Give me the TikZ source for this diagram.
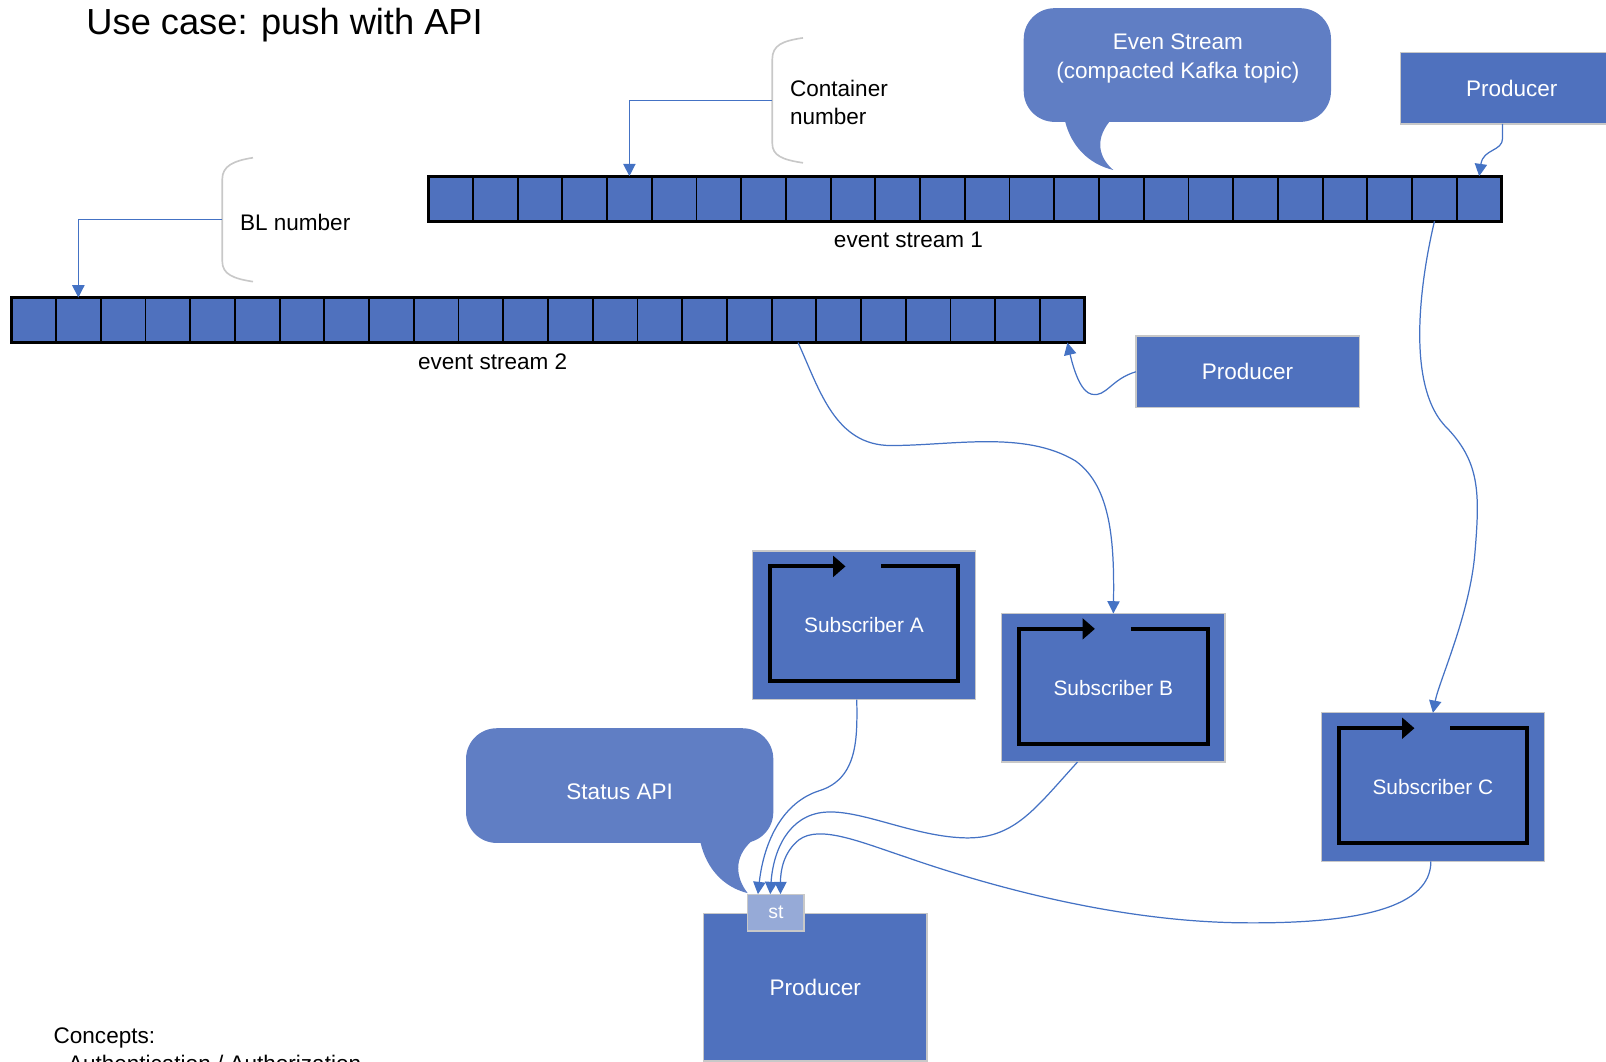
\documentclass[tikz,border=0pt]{standalone}
\usepackage{fontspec}
\setmainfont{Liberation Sans}
\usetikzlibrary{arrows.meta}

\definecolor{boxblue}{RGB}{79,113,190}
\definecolor{bubbleblue}{RGB}{96,126,196}
\definecolor{stblue}{RGB}{150,170,215}
\definecolor{linkblue}{RGB}{68,114,196}
\definecolor{bracegray}{RGB}{200,200,200}

% black loop inside a subscriber box
\newcommand{\loopframe}[1]{%
  \draw[loopline] ([xshift=63pt,yshift=-7.5pt]#1.north west) -- ([xshift=-8.5pt,yshift=-7.5pt]#1.north east)
    -- ([xshift=-8.5pt,yshift=9pt]#1.south east) -- ([xshift=8.5pt,yshift=9pt]#1.south west)
    -- ([xshift=8.5pt,yshift=-7.5pt]#1.north west) -- ([xshift=45.5pt,yshift=-7.5pt]#1.north west);}

\begin{document}
\begin{tikzpicture}[x=0.5pt,y=-0.5pt,
  cell/.style={draw=black,line width=0.9pt,fill=boxblue,minimum width=21.83pt,minimum height=22pt,inner sep=0pt,outer sep=0pt},
  box/.style={draw=bracegray,line width=0.6pt,fill=boxblue,text=white,inner sep=0pt,outer sep=0pt,font=\fontsize{11}{13}\selectfont},
  bubble/.style={fill=bubbleblue,rounded corners=15pt,text=white,inner sep=0pt,align=center,font=\fontsize{11}{14.5}\selectfont},
  lbl/.style={inner sep=0pt,font=\fontsize{11}{14}\selectfont},
  brace/.style={draw=bracegray,line width=0.8pt},
  link/.style={draw=linkblue,line width=0.6pt,-{Triangle[length=6pt,width=6pt]}},
  loopline/.style={draw=black,line width=2pt,-{Triangle[length=6pt,width=10pt]}}]
\useasboundingbox (0,0) rectangle (1568,1036);

\node[anchor=west,inner sep=0pt,font=\fontsize{17.7}{20}\selectfont] (title) at (84,25) {Use case: push with API};

% event streams
\foreach \i in {1,...,24} {
  \node[cell] (sa\i) at ({418+43.667*(\i-0.5)},194) {};
  \node[cell] (sb\i) at ({11+43.667*(\i-0.5)},312.5) {};
}
\draw[line width=1.4pt] (sa1.north west) rectangle (sa24.south east);
\draw[line width=1.4pt] (sb1.north west) rectangle (sb24.south east);
\node[lbl] (esOne) at (887,234) {event stream 1};
\node[lbl] (esTwo) at (481,353) {event stream 2};

% keys
\draw[brace] (784,37) .. controls (764,40) and (754,44) .. (754,58) -- (754,140) .. controls (754,152) and (764,156) .. (784,159);
\draw[brace] (247,154) .. controls (228,157) and (217,162) .. (217,175) -- (217,255) .. controls (217,268) and (228,272) .. (247,275);
\coordinate (cnMid) at (754,98);
\coordinate (blMid) at (217,214);
\node[lbl,anchor=west,align=left] (cnText) at (771,100) {Container\\number};
\node[lbl,anchor=west] (blText) at (234,217) {BL number};

% callouts
\fill[bubbleblue] (1040,110) -- (1040,119) .. controls (1046,142) and (1062,160) .. (1087,166) .. controls (1074,155) and (1068,138) .. (1083,119) -- (1083,110) -- cycle;
\node[bubble,minimum width=150pt,minimum height=55.5pt] (evBubble) at (1149.5,63.5) {};
\node[lbl,text=white,align=center] (evText) at (1150,57) {Even Stream\\(compacted Kafka topic)};
\fill[bubbleblue] (684,815) -- (684,823) .. controls (690,848) and (706,866) .. (730,872) .. controls (719,858) and (715,838) .. (734,821) -- (734,815) -- cycle;
\node[bubble,minimum width=150pt,minimum height=56pt] (statusApi) at (605,767) {};
\node[lbl,text=white] (statusText) at (605,773) {Status API};

% producers
\node[box,minimum width=109pt,minimum height=35pt] (prodTop) at (1476,86) {Producer};
\node[box,minimum width=109pt,minimum height=35pt] (prodMid) at (1218,363) {Producer};
\node[box,minimum width=109pt,minimum height=72pt] (prodBot) at (796,964) {Producer};
\node[box,fill=stblue,minimum width=27.5pt,minimum height=18pt,font=\fontsize{9.5}{11}\selectfont] (st) at (757.5,891) {st};

% subscribers
\node[box,minimum width=109pt,minimum height=72.5pt,font=\fontsize{10.2}{12}\selectfont] (subA) at (843.5,610.5) {Subscriber A};
\node[box,minimum width=109pt,minimum height=72.5pt,font=\fontsize{10.2}{12}\selectfont] (subB) at (1087,671.5) {Subscriber B};
\node[box,minimum width=109pt,minimum height=72.5pt,font=\fontsize{10.2}{12}\selectfont] (subC) at (1399,768.5) {Subscriber C};
\loopframe{subA}
\loopframe{subB}
\loopframe{subC}

% connectors
\draw[link] (cnMid) -| (sa5.north);
\draw[link] (blMid) -| (sb2.north);
\draw[link] ([xshift=-4.5pt]prodTop.south) -- (1467,135) .. controls (1467,148) and (1448,145) .. (sa24.north);
\draw[link] (prodMid.west) .. controls (1085,370) and (1080,388) .. (1066,385) .. controls (1055,383) and (1048,360) .. ([xshift=2.5pt]sb24.south);
\draw[link] ([xshift=2pt]sb18.south) .. controls (800,380) and (815,435) .. (870,435) .. controls (930,435) and (1000,420) .. (1050,450) .. controls (1085,475) and (1088,530) .. (subB.north);
\draw[link] (sa23.south) .. controls (1390,260) and (1370,370) .. (1410,415) .. controls (1445,450) and (1445,480) .. (1440,540) .. controls (1435,600) and (1405,665) .. (subC.north);
\draw[link] ([xshift=-3.5pt]subA.south) .. controls (837,720) and (838,760) .. (800,772) .. controls (765,783) and (746,820) .. ([xshift=-8.75pt]st.north);
\draw[link] ([xshift=-17.5pt]subB.south) .. controls (1010,790) and (990,820) .. (940,818) .. controls (890,816) and (840,790) .. (805,793) .. controls (770,796) and (755,830) .. ([xshift=-2.75pt]st.north);
\draw[link] ([xshift=-1pt]subC.south) .. controls (1397,885) and (1330,902) .. (1214,901) .. controls (1100,900) and (980,870) .. (885,837) .. controls (840,822) and (800,805) .. (780,820) .. controls (765,832) and (762,850) .. ([xshift=2.25pt]st.north);

\node[lbl,anchor=west] (concepts) at (52,1013) {Concepts:};
\node[lbl,anchor=base west] (authLine) at (66,1046) {Authentication / Authorization};
\end{tikzpicture}
\end{document}
